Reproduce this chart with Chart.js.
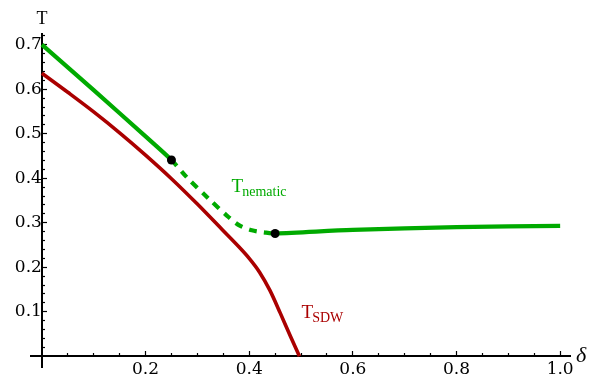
<!DOCTYPE html>
<html>
<head>
<meta charset="utf-8">
<script src="https://cdn.jsdelivr.net/npm/chart.js@4.4.0/dist/chart.umd.min.js"></script>
<style>
  html, body { margin: 0; padding: 0; background: #fff; }
  #wrap { width: 598px; height: 379px; }
</style>
</head>
<body>
<div id="wrap"><canvas id="chart"></canvas></div>
<script>
// doping (delta) on x, temperature T on y
const nematicDelta = [0, 0.1, 0.2, 0.25, 0.279, 0.321, 0.36, 0.381, 0.405, 0.431, 0.45, 0.6, 0.8, 1.0]
const nematicT     = [0.70, 0.598, 0.494, 0.441, 0.403, 0.355, 0.313, 0.294, 0.283, 0.278, 0.276, 0.284, 0.290, 0.293]
const sdwDelta = [0, 0.05, 0.1, 0.15, 0.2, 0.25, 0.3, 0.35, 0.38, 0.4, 0.42, 0.44, 0.46, 0.48, 0.497]
const sdwT     = [0.636, 0.593, 0.549, 0.502, 0.452, 0.399, 0.342, 0.282, 0.246, 0.220, 0.189, 0.148, 0.097, 0.044, 0]
// dots at both ends of the dashed stretch
const markDelta = [0.25, 0.45]
const markT     = [0.441, 0.276]

const xMajorTicks = [0.2, 0.4, 0.6, 0.8, 1.0]
const xMinorTicks = [0.05, 0.1, 0.15, 0.25, 0.3, 0.35, 0.45, 0.5, 0.55, 0.65, 0.7, 0.75, 0.85, 0.9, 0.95]
const yMajorTicks = [0.1, 0.2, 0.3, 0.4, 0.5, 0.6, 0.7]
const yMinorTicks = [0.02, 0.04, 0.06, 0.08, 0.12, 0.14, 0.16, 0.18, 0.22, 0.24, 0.26, 0.28,
  0.32, 0.34, 0.36, 0.38, 0.42, 0.44, 0.46, 0.48, 0.52, 0.54, 0.56, 0.58, 0.62, 0.64, 0.66, 0.68, 0.72]

const GREEN = '#00aa00'
const RED = '#aa0000'
const dashFrom = markDelta[0], dashTo = markDelta[1]

const pts = (xs, ys) => xs.map((v, i) => ({ x: v, y: ys[i] }))

const X_RANGE = { min: -0.021, max: 1.019 }
const Y_RANGE = { min: -0.024, max: 0.724 }

function axis(kind, ticksArr, tl, labels) {
  const isX = kind === 'x'
  const base = isX ? X_RANGE : Y_RANGE
  return {
    type: 'linear',
    min: base.min,
    max: base.max,
    position: isX ? { y: 0 } : { x: 0 },
    afterBuildTicks: s => { s.ticks = ticksArr.map(v => ({ value: v })) },
    border: { display: true, color: '#000', width: 2 },
    grid: { display: true, drawOnChartArea: false, drawTicks: true, tickLength: tl, tickColor: '#000', tickWidth: 1.2 },
    ticks: {
      display: labels,
      color: '#000',
      // y labels sit right against the axis anyway, padding only moves the x labels down
      padding: isX ? 9 : 0,
      font: { family: '"DejaVu Serif", serif', size: 17 },
      callback: v => v.toFixed(1)
    }
  }
}

const textLabels = {
  id: 'textLabels',
  afterDatasetsDraw(chart) {
    const { ctx, scales: { x, y } } = chart
    ctx.save()
    ctx.textBaseline = 'alphabetic'

    // axis names
    ctx.fillStyle = '#000'
    ctx.textAlign = 'center'
    ctx.font = '18px "Liberation Serif", serif'
    ctx.fillText('T', x.getPixelForValue(0), y.getPixelForValue(0.722) - 11)
    ctx.textAlign = 'left'
    ctx.font = 'italic 22px "Liberation Serif", serif'
    ctx.fillText('δ', x.getPixelForValue(1.019) + 6, y.getPixelForValue(0) + 6)

    // curve names with subscripts
    const sub = (main, low, vx, vy, color) => {
      const px = x.getPixelForValue(vx), py = y.getPixelForValue(vy)
      ctx.fillStyle = color
      ctx.font = '19px "Liberation Serif", serif'
      ctx.fillText(main, px, py)
      const w = ctx.measureText(main).width
      ctx.font = '14px "Liberation Serif", serif'
      ctx.fillText(low, px + w - 1, py + 3.5)
    }
    sub('T', 'nematic', 0.366, 0.369, GREEN)
    sub('T', 'SDW', 0.501, 0.086, RED)
    ctx.restore()
  }
}

new Chart(document.getElementById('chart'), {
  type: 'line',
  data: {
    datasets: [
      {
        data: pts(nematicDelta, nematicT),
        borderColor: GREEN,
        borderWidth: 4.2,
        pointRadius: 0,
        tension: 0.3,
        segment: {
          borderDash: c => (c.p0.parsed.x >= dashFrom - 1e-9 && c.p1.parsed.x <= dashTo + 1e-9) ? [8, 7] : undefined
        }
      },
      {
        data: pts(sdwDelta, sdwT),
        borderColor: RED,
        borderWidth: 3.6,
        pointRadius: 0,
        tension: 0.3
      },
      {
        type: 'scatter',
        order: -1,
        data: pts(markDelta, markT),
        showLine: false,
        pointRadius: 4.5,
        pointBackgroundColor: '#000',
        pointBorderColor: '#000',
        pointBorderWidth: 0
      }
    ]
  },
  options: {
    responsive: true,
    maintainAspectRatio: false,
    animation: false,
    layout: { padding: { left: 31, right: 28, top: 34, bottom: 12 } },
    plugins: { legend: { display: false }, tooltip: { enabled: false } },
    scales: {
      x: axis('x', xMajorTicks, -6, true),
      xMinor: axis('x', xMinorTicks, -4, false),
      y: axis('y', yMajorTicks, -6, true),
      yMinor: axis('y', yMinorTicks, -4, false)
    }
  },
  plugins: [textLabels]
})
</script>
</body>
</html>
